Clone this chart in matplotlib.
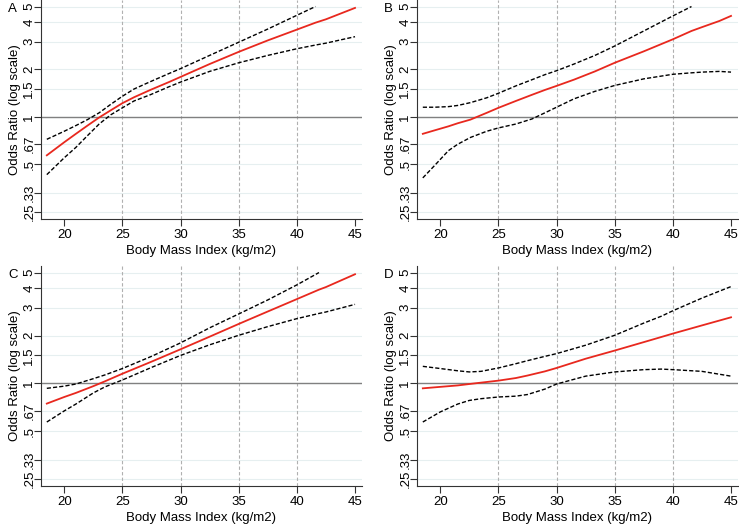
import matplotlib
matplotlib.use('Agg')
import matplotlib.pyplot as plt
import matplotlib.ticker as mticker

plt.rcParams['font.family'] = ['Liberation Sans', 'DejaVu Sans']

# BMI values, with odds ratios (estimate, lower CI, upper CI)
bmi_a = [18.5, 20, 21, 22, 23, 24, 25, 26, 27.4, 29, 30, 32.5, 35, 37.5, 40, 41.6, 42.5, 45]
or_a = [0.57, 0.69, 0.78, 0.88, 0.99, 1.1, 1.22, 1.33, 1.48, 1.66, 1.79, 2.16, 2.58, 3.05, 3.57, 3.95, 4.15, 4.9]
lo_a = [0.43, 0.55, 0.64, 0.76, 0.9, 1.03, 1.14, 1.26, 1.38, 1.55, 1.66, 1.94, 2.2, 2.45, 2.7, 2.85, 2.93, 3.22]
hi_a = [0.72, 0.81, 0.88, 0.96, 1.06, 1.2, 1.35, 1.5, 1.67, 1.88, 2.02, 2.45, 2.97, 3.6, 4.4, 5.0, None, None]

bmi_b = [18.5, 19.5, 20.7, 21.5, 22.6, 24, 25, 26.5, 27.9, 29, 30, 31.5, 33.3, 35, 37.5, 40, 41.6, 42.5, 44, 45]
or_b = [0.78, 0.82, 0.87, 0.91, 0.96, 1.06, 1.14, 1.26, 1.38, 1.48, 1.57, 1.72, 1.94, 2.2, 2.6, 3.1, 3.5, 3.7, 4.05, 4.36]
lo_b = [0.41, 0.49, 0.61, 0.67, 0.74, 0.81, 0.85, 0.9, 0.97, 1.06, 1.15, 1.3, 1.45, 1.58, 1.74, 1.86, 1.9, 1.92, 1.94, 1.92]
hi_b = [1.15, 1.15, 1.16, 1.18, 1.23, 1.32, 1.41, 1.57, 1.72, 1.85, 1.96, 2.16, 2.45, 2.81, 3.5, 4.36, 5.0, None, None, None]

bmi_c = [18.5, 20, 21, 22.5, 23.5, 25, 27.5, 30, 32.5, 35, 37.5, 40, 41.9, 42.5, 45]
or_c = [0.745, 0.82, 0.87, 0.96, 1.03, 1.15, 1.37, 1.64, 1.97, 2.37, 2.84, 3.4, 3.9, 4.05, 4.88]
lo_c = [0.57, 0.67, 0.74, 0.87, 0.95, 1.05, 1.26, 1.5, 1.75, 2.01, 2.28, 2.56, 2.76, 2.82, 3.15]
hi_c = [0.93, 0.96, 0.99, 1.07, 1.13, 1.24, 1.48, 1.8, 2.24, 2.74, 3.36, 4.18, 5.0, None, None]

bmi_d = [18.5, 20, 21.5, 22.5, 23.5, 25, 26.5, 27.5, 29, 30, 32.5, 35, 37.5, 39, 40, 42.5, 45]
or_d = [0.93, 0.95, 0.97, 0.99, 1.01, 1.04, 1.08, 1.12, 1.19, 1.25, 1.43, 1.61, 1.82, 1.96, 2.06, 2.32, 2.61]
lo_d = [0.57, 0.66, 0.74, 0.78, 0.8, 0.82, 0.83, 0.85, 0.92, 0.99, 1.11, 1.18, 1.22, 1.23, 1.22, 1.19, 1.11]
hi_d = [1.28, 1.24, 1.2, 1.18, 1.19, 1.25, 1.33, 1.39, 1.48, 1.54, 1.74, 2.01, 2.4, 2.65, 2.87, 3.45, 4.08]

y_ticks = [0.25, 0.33, 0.5, 0.67, 1, 1.5, 2, 3, 4, 5]
y_labels = ['.25', '.33', '.5', '.67', '1', '1.5', '2', '3', '4', '5']
x_ticks = [20, 25, 30, 35, 40, 45]

panels = [
    ('A', bmi_a, or_a, lo_a, hi_a),
    ('B', bmi_b, or_b, lo_b, hi_b),
    ('C', bmi_c, or_c, lo_c, hi_c),
    ('D', bmi_d, or_d, lo_d, hi_d),
]

# axes boxes in figure pixels: left, top, right, bottom
W, H = 739, 524
boxes = [
    (41, 0, 362, 219),
    (417, 0, 738, 219),
    (41, 266, 362, 486),
    (417, 266, 738, 486),
]

fig = plt.figure(figsize=(W / 100, H / 100), dpi=100)

for (name, x, est, lo, hi), (l, t, r, b) in zip(panels, boxes):
    ax = fig.add_axes([l / W, 1 - b / H, (r - l) / W, (b - t) / H])
    ax.set_yscale('log')
    ax.set_xlim(18.0, 45.6)
    ax.set_ylim(0.225, 5.5)

    for v in y_ticks:
        ax.axhline(v, color='#e6eff0', lw=0.8, zorder=0)
    for v in [25, 30, 35, 40]:
        ax.axvline(v, color='#b0b0b0', lw=0.8, ls=(0, (3, 2)), zorder=1)
    ax.axhline(1, color='#808080', lw=1.0, zorder=1)

    hx = [xi for xi, v in zip(x, hi) if v is not None]
    hv = [v for v in hi if v is not None]
    ax.plot(x, lo, color='black', lw=1.0, ls=(0, (3, 1.5)), zorder=3)
    ax.plot(hx, hv, color='black', lw=1.0, ls=(0, (3, 1.5)), zorder=3)
    ax.plot(x, est, color='#e8281e', lw=1.3, zorder=4)

    ax.yaxis.set_major_locator(mticker.FixedLocator(y_ticks))
    ax.yaxis.set_major_formatter(mticker.FixedFormatter(y_labels))
    ax.yaxis.set_minor_locator(mticker.NullLocator())
    ax.set_xticks(x_ticks)
    ax.tick_params(axis='y', labelrotation=90, labelsize=9.5, length=5,
                   color='#333333', pad=-1)
    ax.tick_params(axis='x', labelsize=9.5, length=5, color='#333333', pad=2)
    for lab in ax.get_yticklabels():
        lab.set_va('center')
    ax.spines['top'].set_visible(False)
    ax.spines['right'].set_visible(False)
    ax.spines['left'].set_color('#333333')
    ax.spines['bottom'].set_color('#333333')
    ax.set_xlabel('Body Mass Index (kg/m2)', fontsize=9.5, labelpad=3)
    ax.set_ylabel('Odds Ratio (log scale)', fontsize=9.5, labelpad=2)

    fig.text((l - 33) / W, 1 - (t + 9) / H, name, fontsize=9.5,
             ha='left', va='center')

fig.savefig('out.png', dpi=100)
